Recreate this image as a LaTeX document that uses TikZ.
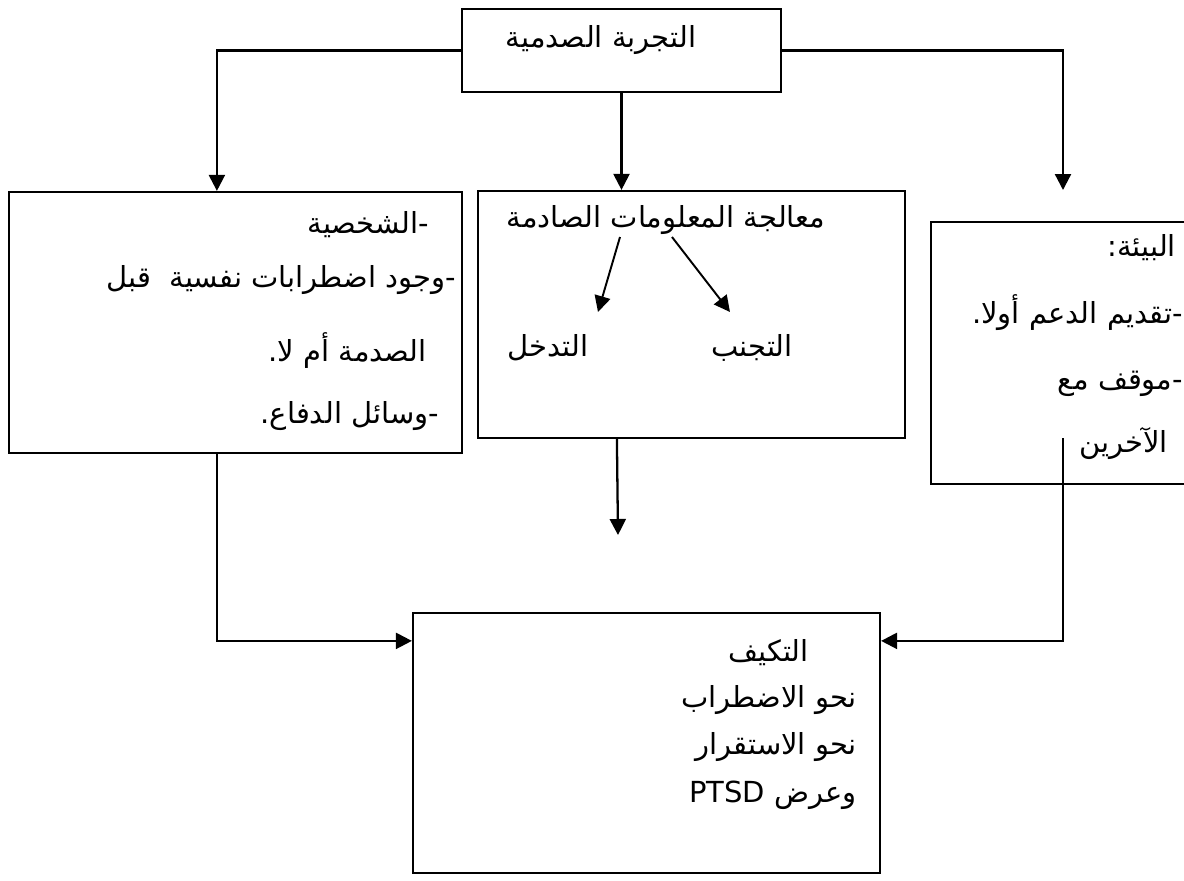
\documentclass[tikz,border=0pt]{standalone}
\usepackage{fontspec}
\newfontfamily\arabicfont[Script=Arabic]{DejaVu Sans}
\TeXXeTstate=1
\usetikzlibrary{calc, arrows.meta}

\begin{document}
\begin{tikzpicture}[x=0.02cm, y=-0.02cm, line width=1.3pt,
  box/.style={draw, rectangle, inner sep=0pt},
  txt/.style={font=\arabicfont\fontsize{16.5}{20}\selectfont, inner sep=0pt},
  arr/.style={-{Triangle[length=0.32cm, width=0.32cm]}}]
  % canvas in pixels, y runs down
  \useasboundingbox (0,0) rectangle (1184,880);
  % boxes
  \node[box, minimum width=6.38cm, minimum height=1.66cm] (top) at (621.5,50.5) {};
  \node[box, minimum width=9.06cm, minimum height=5.22cm] (left) at (235.5,322.5) {};
  \node[box, minimum width=8.54cm, minimum height=4.94cm] (mid) at (691.5,314.5) {};
  \node[box, minimum width=5.60cm, minimum height=5.24cm] (right) at (1071,353) {};
  \node[box, minimum width=9.34cm, minimum height=5.20cm] (bot) at (646.5,743) {};
  % texts
  \node[txt] (trauma) at (601,40) {\beginR التجربة الصدمية\endR};
  \node[txt, anchor=east] (pers) at (430,225) {\beginR -الشخصية\endR};
  \node[txt, anchor=east] (pre) at (457,280) {\beginR -وجود اضطرابات نفسية \ قبل\endR};
  \node[txt, anchor=east] (orno) at (428,350) {\beginR الصدمة أم لا.\endR};
  \node[txt, anchor=east] (def) at (440,416) {\beginR -وسائل الدفاع.\endR};
  \node[txt] (proc) at (666,220) {\beginR معالجة المعلومات الصادمة\endR};
  \node[txt] (intv) at (548,348) {\beginR التدخل\endR};
  \node[txt] (avoid) at (752,348) {\beginR التجنب\endR};
  \node[txt, anchor=east] (env) at (1177,248) {\beginR البيئة:\endR};
  \node[txt, anchor=east] (supp) at (1184,313) {\beginR -تقديم الدعم أولا.\endR};
  \node[txt, anchor=east] (pos) at (1184,384) {\beginR -موقف مع\endR};
  \node[txt, anchor=west] (oth) at (1078,443) {\beginR الآخرين\endR};
  \node[txt, anchor=east] (adapt) at (810,653) {\beginR التكيف\endR};
  \node[txt, anchor=east] (dis) at (858,700) {\beginR نحو الاضطراب\endR};
  \node[txt, anchor=east] (stab) at (858,747) {\beginR نحو الاستقرار\endR};
  \node[txt, anchor=east] (ptsd) at (858,795) {\beginR وعرض \beginL PTSD\endL\endR};
  % free ends
  \coordinate (rt) at (1063,190);
  \coordinate (mt) at (618,535);
  \coordinate (rs) at (1063,438);
  \coordinate (p1) at (620,237);
  \coordinate (p2) at (672,237);
  \coordinate (t1) at (598,312);
  \coordinate (t2) at (730,312);
  % connectors
  \draw[arr] (top.west) -| ($(left.north west)+(209,0)$);
  \draw[arr] (top.south) -- (top.south |- mid.north);
  \draw[arr] (top.east) -| (rt);
  \draw[arr] ($(left.south west)+(209,0)$) |- ($(bot.north west)+(0,29)$);
  \draw[arr] ($(mid.south west)+(140,0)$) -- (mt);
  \draw[arr] (rs) |- ($(bot.north east)+(0,29)$);
  \draw[arr, line width=1.1pt] (p1) -- (t1);
  \draw[arr, line width=1.1pt] (p2) -- (t2);
\end{tikzpicture}
\end{document}
